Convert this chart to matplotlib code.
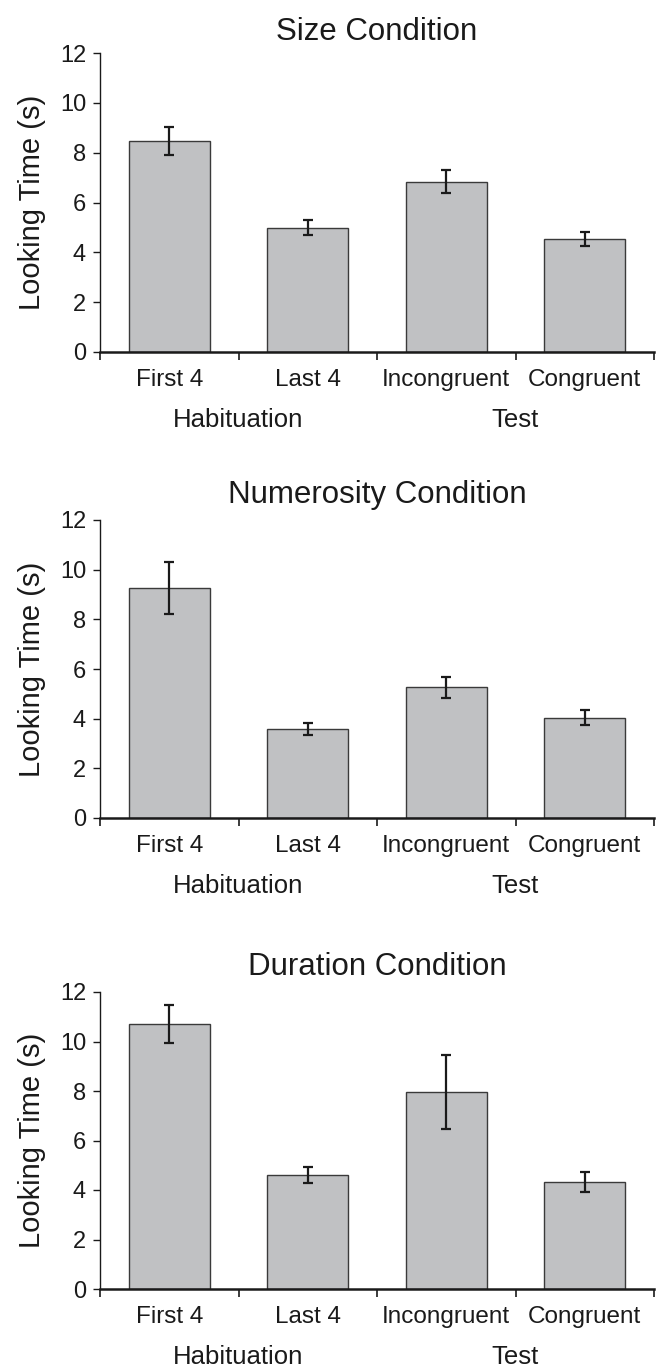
import matplotlib.pyplot as plt
import numpy as np

plt.rcParams['font.family'] = ['Liberation Sans', 'DejaVu Sans']

# 데이터
categories = ['First 4', 'Last 4', 'Incongruent', 'Congruent']
groups = ['Habituation', 'Test']
titles = ['Size Condition', 'Numerosity Condition', 'Duration Condition']

size_means = [8.46, 4.99, 6.84, 4.54]
size_errs = [0.57, 0.29, 0.45, 0.27]

numerosity_means = [9.26, 3.59, 5.26, 4.03]
numerosity_errs = [1.05, 0.24, 0.43, 0.30]

duration_means = [10.71, 4.60, 7.96, 4.31]
duration_errs = [0.76, 0.32, 1.50, 0.40]

all_means = [size_means, numerosity_means, duration_means]
all_errs = [size_errs, numerosity_errs, duration_errs]

W, H = 656, 1372
fig = plt.figure(figsize=(W / 100, H / 100), dpi=100)

# 축 위치 (픽셀 기준: 0 라인, 12 라인)
panel_px = [(352, 53), (818, 520), (1289, 992)]
title_pads = [9, 12, 12]
left_px, right_px = 100, 654

x = np.arange(len(categories))

for i in range(3):
    y0, y12 = panel_px[i]
    ax = fig.add_axes([left_px / W, 1 - y0 / H, (right_px - left_px) / W, (y0 - y12) / H])

    ax.bar(x, all_means[i], width=0.585, color='#c0c1c3', edgecolor='#3a3a3a', linewidth=1.0, zorder=2)
    ax.errorbar(x, all_means[i], yerr=all_errs[i], fmt='none', ecolor='#1a1a1a',
                elinewidth=1.6, capsize=3.5, capthick=1.6, zorder=3)

    ax.set_xlim(-0.5, 3.5)
    ax.set_ylim(0, 12)
    ax.set_yticks(range(0, 13, 2))
    ax.tick_params(axis='y', labelsize=17, direction='out', length=5, width=1.0, pad=5, colors='#1a1a1a')

    # x축: 경계 눈금 + 카테고리 라벨
    ax.set_xticks(np.arange(-0.5, 4, 1.0))
    ax.set_xticklabels([])
    ax.tick_params(axis='x', direction='out', length=6, width=1.2, colors='#1a1a1a')
    ax.set_xticks(x, minor=True)
    ax.set_xticklabels(categories, minor=True, fontsize=17.5, color='#1a1a1a')
    ax.tick_params(axis='x', which='minor', length=0, pad=12)

    ax.spines['top'].set_visible(False)
    ax.spines['right'].set_visible(False)
    ax.spines['left'].set_linewidth(1.0)
    ax.spines['bottom'].set_linewidth(1.8)
    ax.spines['left'].set_color('#1a1a1a')
    ax.spines['bottom'].set_color('#1a1a1a')

    ax.set_ylabel('Looking Time (s)', fontsize=21, color='#1a1a1a', labelpad=10)
    ax.set_title(titles[i], fontsize=22.5, color='#1a1a1a', pad=title_pads[i])

    for gx, g in zip([0.5, 2.5], groups):
        ax.annotate(g, xy=(gx, 0), xycoords=('data', 'axes fraction'),
                    xytext=(0, -68 * 0.72), textcoords='offset points',
                    ha='center', va='center', fontsize=18.5, color='#1a1a1a')

fig.savefig('out.png', dpi=100)
